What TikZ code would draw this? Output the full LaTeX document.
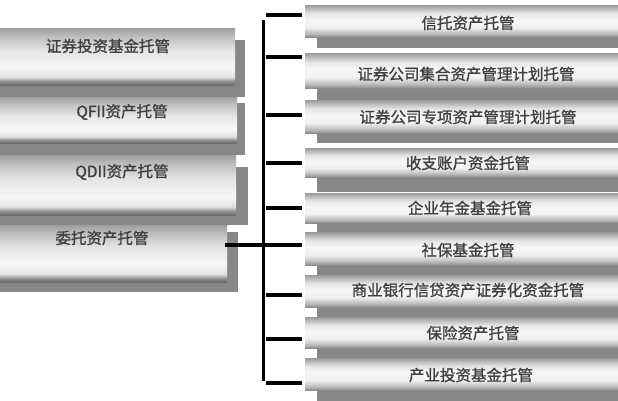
\documentclass[tikz,border=0pt]{standalone}
\usepackage{fontspec}
\newfontfamily\cjk[FakeBold=1.2]{Noto Sans CJK SC}
\pgfdeclareverticalshading{leftshade}{100bp}{color(0bp)=(black!58); color(25bp)=(black!58); color(28bp)=(black!45); color(32bp)=(black!12); color(40bp)=(black!3); color(55bp)=(black!10); color(68bp)=(black!26); color(75bp)=(black!38); color(100bp)=(black!38)}
\pgfdeclareverticalshading{rightshade}{100bp}{color(0bp)=(black!45); color(25bp)=(black!45); color(30bp)=(black!28); color(40bp)=(black!6); color(52bp)=(black!3); color(62bp)=(black!10); color(70bp)=(black!28); color(75bp)=(black!40); color(100bp)=(black!40)}
\begin{document}
\begin{tikzpicture}[x=1bp,y=-1bp,
  shadowc/.style={fill=black!47},
  lbox/.style={shading=leftshade, inner sep=0pt, outer sep=0pt, anchor=north west},
  rbox/.style={shading=rightshade, inner sep=0pt, outer sep=0pt, anchor=north west, minimum width=320bp},
  lbl/.style={font=\cjk\fontsize{15.5bp}{18bp}\selectfont, text=black!75, inner sep=0pt},
  busline/.style={line width=3bp, black},
  tickline/.style={line width=3.8bp, black}]
\useasboundingbox (0,0) rectangle (618,400);
\fill[white] (0,0) rectangle (618,400);
% left boxes with shadows
\fill[shadowc] (-5,40) rectangle (245,97);
\node[lbox, minimum width=240bp, minimum height=57bp] (lb1) at (-5,28) {};
\fill[shadowc] (-5,103) rectangle (245,155);
\node[lbox, minimum width=242bp, minimum height=46bp] (lb2) at (-5,97) {};
\fill[shadowc] (-5,167) rectangle (248,225);
\node[lbox, minimum width=241bp, minimum height=60bp] (lb3) at (-5,155) {};
\fill[shadowc] (-5,232) rectangle (238,292);
\node[lbox, minimum width=232bp, minimum height=57bp] (lb4) at (-5,225) {};
\node[lbl] (lt1) at (108,46) {证券投资基金托管};
\node[lbl] (lt2) at (122,112) {QFII资产托管};
\node[lbl] (lt3) at (122,172) {QDII资产托管};
\node[lbl] (lt4) at (102,238) {委托资产托管};
% right boxes with shadows
\fill[shadowc] (317,15) rectangle (625,48);
\node[rbox, minimum height=32bp] (rb1) at (305,5) {};
\fill[shadowc] (317,63) rectangle (625,100);
\node[rbox, minimum height=35bp] (rb2) at (305,53) {};
\fill[shadowc] (317,110) rectangle (625,143);
\node[rbox, minimum height=33bp] (rb3) at (305,100) {};
\fill[shadowc] (317,158) rectangle (625,192);
\node[rbox, minimum height=29bp] (rb4) at (305,148) {};
\fill[shadowc] (317,203) rectangle (625,232);
\node[rbox, minimum height=30bp] (rb5) at (305,193) {};
\fill[shadowc] (317,242) rectangle (625,275);
\node[rbox, minimum height=33bp] (rb6) at (305,232) {};
\fill[shadowc] (317,285) rectangle (625,317);
\node[rbox, minimum height=32bp] (rb7) at (305,275) {};
\fill[shadowc] (317,327) rectangle (625,358);
\node[rbox, minimum height=31bp] (rb8) at (305,317) {};
\fill[shadowc] (317,368) rectangle (625,402);
\node[rbox, minimum height=32bp] (rb9) at (305,358) {};
\node[lbl] (rt1) at (468,23) {信托资产托管};
\node[lbl] (rt2) at (466,74) {证券公司集合资产管理计划托管};
\node[lbl] (rt3) at (468,117) {证券公司专项资产管理计划托管};
\node[lbl] (rt4) at (468,163) {收支账户资金托管};
\node[lbl] (rt5) at (470,208) {企业年金基金托管};
\node[lbl] (rt6) at (468,250) {社保基金托管};
\node[lbl] (rt7) at (468,290) {商业银行信贷资产证券化资金托管};
\node[lbl] (rt8) at (473,333) {保险资产托管};
\node[lbl] (rt9) at (471,375) {产业投资基金托管};
% bus and ticks
\coordinate (bustop) at (263,20);
\coordinate (busbot) at (263,381);
\coordinate (k1) at (302,15);
\coordinate (k2) at (302,57);
\coordinate (k3) at (302,115);
\coordinate (k4) at (302,163);
\coordinate (k5) at (302,208);
\coordinate (k6) at (302,245);
\coordinate (k7) at (302,295);
\coordinate (k8) at (302,339);
\coordinate (k9) at (302,383);
\draw[busline] (bustop) -- (busbot);
\foreach \k in {k1,k2,k3,k4,k5,k7,k8,k9}
  \draw[tickline] ([xshift=3bp]\k -| bustop) -- (\k);
\draw[tickline] ([xshift=-2bp]lb4.east |- k6) -- (k6);
\end{tikzpicture}
\end{document}
